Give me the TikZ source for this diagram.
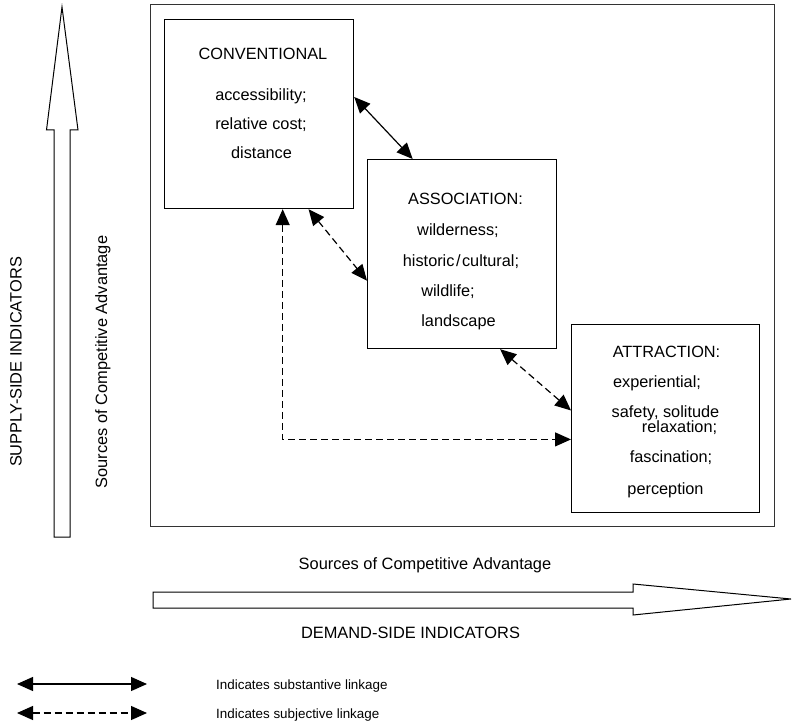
\documentclass[tikz,border=0pt]{standalone}
\usepackage{fontspec}
\setmainfont{Liberation Sans}
\usetikzlibrary{arrows.meta,calc}

\tikzset{
  panel/.style={draw, line width=1.2bp, minimum width=189bp, minimum height=189bp,
                inner sep=0pt, anchor=north west},
  boxtext/.style={inner sep=0pt, anchor=base, font=\fontsize{16.3bp}{18bp}\selectfont},
  axistext/.style={inner sep=0pt, font=\fontsize{16.4bp}{18bp}\selectfont},
  legendtext/.style={inner sep=0pt, anchor=base west, font=\fontsize{13.4bp}{15bp}\selectfont},
  link/.style={line width=1.2bp,
               {Triangle[length=16bp,width=14bp]}-{Triangle[length=16bp,width=14bp]}},
  subjective/.style={link, dash pattern=on 7bp off 4bp},
  bigarrow/.style={draw, line width=1bp, line join=miter, fill=white}
}

\begin{document}
\begin{tikzpicture}[x=1bp,y=-1bp]
\useasboundingbox (0,0) rectangle (792,727);

% outer frame
\draw[line width=1bp, black!80] (150,5) rectangle (774,526);

% supply-side axis arrow
\draw[bigarrow] (54,537) -- (54,130) -- (46.5,130) -- (62,7) -- (78,130)
  -- (70,130) -- (70,537) -- cycle;
% demand-side axis arrow
\draw[bigarrow] (153,592) -- (633,592) -- (633,584) -- (791,599) -- (633,615)
  -- (633,608) -- (153,608) -- cycle;

% axis labels
\node[axistext, rotate=90] (supply) at (16,362) {SUPPLY-SIDE INDICATORS};
\node[axistext, rotate=90] (srcv) at (103,362) {Sources of Competitive Advantage};
\node[axistext, anchor=base] (srch) at (425,569.5) {Sources of Competitive Advantage};
\node[axistext, anchor=base] (demand) at (410.5,638.5) {DEMAND-SIDE INDICATORS};

% the three panels
\node[panel] (conv) at (164,19) {};
\node[panel] (assoc) at (367,159) {};
\node[panel, minimum height=188bp, minimum width=188bp] (attr) at (571,324) {};

% conventional
\node[boxtext] (conv0) at (263,59.5) {CONVENTIONAL};
\node[boxtext] (conv1) at (261,100.5) {accessibility;};
\node[boxtext] (conv2) at (261,129.5) {relative cost;};
\node[boxtext] (conv3) at (261.5,158.5) {distance};

% association
\node[boxtext] (assoc0) at (465.5,204.5) {ASSOCIATION:};
\node[boxtext] (assoc1) at (458,235.5) {wilderness;};
\node[boxtext] (assoc2) at (461,266.5) {historic\kern1.5bp/\kern1.5bp cultural;};
\node[boxtext] (assoc3) at (448,296.5) {wildlife;};
\node[boxtext] (assoc4) at (458.5,326.5) {landscape};

% attraction
\node[boxtext] (attr0) at (666.5,357.5) {ATTRACTION:};
\node[boxtext] (attr1) at (657,387.5) {experiential;};
\node[boxtext] (attr2) at (665.5,417.5) {safety, solitude};
\node[boxtext] (attr3) at (679.5,432.5) {relaxation;};
\node[boxtext] (attr4) at (671,462.5) {fascination;};
\node[boxtext] (attr5) at (665.5,494.5) {perception};

% linkages between panels
\draw[link] ($(conv.north east)!0.41!(conv.south east)$)
         -- ($(assoc.north west)!0.24!(assoc.north east)$);
\draw[subjective] ($(conv.south west)!0.76!(conv.south east)$)
         -- ($(assoc.north west)!0.64!(assoc.south west)$);
\draw[subjective] ($(assoc.south west)!0.70!(assoc.south east)$)
         -- ($(attr.north west)!0.457!(attr.south west)$);
\draw[subjective] ($(conv.south west)!0.624!(conv.south east)$)
         |- ($(attr.north west)!0.61!(attr.south west)$);

% legend
\coordinate (lsa) at (17,684);
\coordinate (lsb) at (147,684);
\coordinate (lda) at (17,713);
\coordinate (ldb) at (147,713);
\draw[link] (lsa) -- (lsb);
\draw[subjective] (lda) -- (ldb);
\node[legendtext] (lst) at (216,689) {Indicates substantive linkage};
\node[legendtext] (ldt) at (216,718) {Indicates subjective linkage};
\end{tikzpicture}
\end{document}
